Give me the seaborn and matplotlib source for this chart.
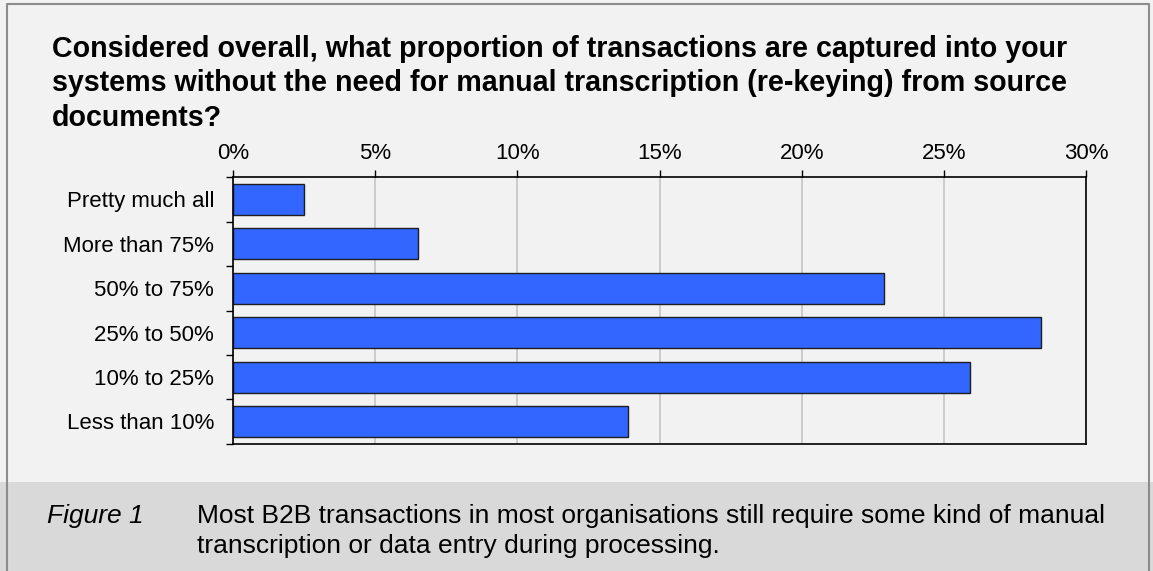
import numpy as np
import pandas as pd
import matplotlib
matplotlib.use("Agg")
import matplotlib.pyplot as plt
import seaborn as sns
from matplotlib.ticker import PercentFormatter
from matplotlib.patches import Rectangle
from matplotlib.lines import Line2D

# Survey answers (top to bottom) and share of respondents in percent
categories = ["Pretty much all", "More than 75%", "50% to 75%",
              "25% to 50%", "10% to 25%", "Less than 10%"]
shares = [2.5, 6.5, 22.9, 28.4, 25.9, 13.9]
x_ticks = [0, 5, 10, 15, 20, 25, 30]

title_lines = [
    "Considered overall, what proportion of transactions are captured into your",
    "systems without the need for manual transcription (re-keying) from source",
    "documents?",
]
caption_label = "Figure 1"
caption_lines = [
    "Most B2B transactions in most organisations still require some kind of manual",
    "transcription or data entry during processing.",
]

sns.set_theme(style="white")
plt.rcParams["font.family"] = ["Liberation Sans", "DejaVu Sans"]

W, H = 1153, 571
BG = "#f2f2f2"
BAND = "#d9d9d9"

fig = plt.figure(figsize=(W / 100, H / 100), dpi=100, facecolor=BG)

# caption band along the bottom
fig.patches.append(Rectangle((0, 0), 1, (H - 482) / H, transform=fig.transFigure,
                             facecolor=BAND, edgecolor="none", zorder=0))
# frame on left, top and right
fig.lines.append(Line2D([6.5 / W, 6.5 / W, 1149 / W, 1149 / W],
                        [-0.01, 1 - 4 / H, 1 - 4 / H, -0.01],
                        transform=fig.transFigure, color="#8c8c8c", linewidth=1.5, zorder=1))

ax = fig.add_axes([233 / W, 1 - 443.7 / H, (1086.3 - 233) / W, 266.4 / H])
ax.set_facecolor(BG)

df = pd.DataFrame({"answer": categories, "share": shares})
sns.barplot(data=df, y="answer", x="share", orient="h", color="#3366ff",
            saturation=1, width=0.7, edgecolor="#1e1e1e", linewidth=1.0, ax=ax)

ax.set_axisbelow(True)
ax.set_xlim(0, 30)
ax.set_ylim(5.5, -0.5)
ax.set_xlabel("")
ax.set_ylabel("")

# percentage axis on top
ax.xaxis.tick_top()
ax.set_xticks(x_ticks)
ax.xaxis.set_major_formatter(PercentFormatter(decimals=0))
ax.tick_params(axis="x", which="major", direction="out", length=5, width=1,
               color="black", labelsize=16, pad=4.5, top=True, bottom=False,
               labeltop=True, labelbottom=False, labelcolor="black")
ax.grid(axis="x", color="#c8c8c8", linewidth=1.3)
ax.grid(axis="y", visible=False)

# category ticks sit on the boundaries, labels in between
ax.set_yticks(np.arange(-0.5, 6, 1))
ax.set_yticklabels([])
ax.set_yticks(range(len(categories)), minor=True)
ax.set_yticklabels(categories, minor=True)
ax.tick_params(axis="y", which="major", direction="out", length=5, width=1,
               color="black", left=True)
ax.tick_params(axis="y", which="minor", length=0, labelsize=16, pad=13.5,
               labelcolor="black")

for side in ["top", "bottom", "left", "right"]:
    ax.spines[side].set_visible(True)
    ax.spines[side].set_color("black")
    ax.spines[side].set_linewidth(1.2)

# question title
for i, line in enumerate(title_lines):
    fig.text(51.7 / W, 1 - (56.7 + 34.6 * i) / H, line, fontsize=20.6,
             fontweight="bold", color="black", va="baseline", ha="left")

# caption
fig.text(46.7 / W, 1 - 522.7 / H, caption_label, fontsize=19, fontstyle="italic",
         color="black", va="baseline", ha="left")
for i, line in enumerate(caption_lines):
    fig.text(196.7 / W, 1 - (522.7 + 30 * i) / H, line, fontsize=19,
             color="black", va="baseline", ha="left")

fig.savefig("out.png", dpi=100, facecolor=BG)
